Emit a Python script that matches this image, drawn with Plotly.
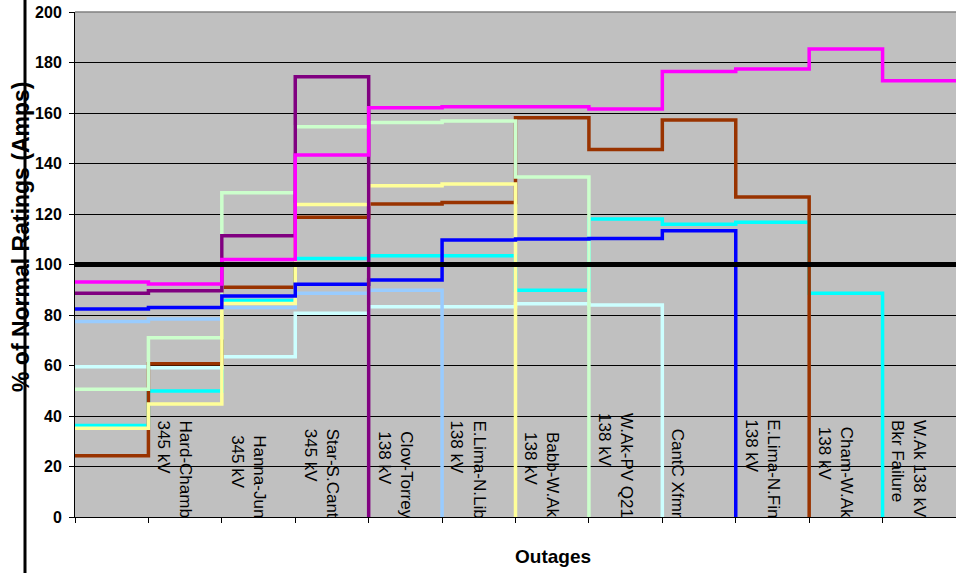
import plotly.graph_objects as go

# Outage cases, one per step boundary 1..11 along the x axis
outage_labels = [
    "Hard-Chamb<br>345 kV",
    "Hanna-Jun<br>345 kV",
    "Star-S.Cant<br>345 kV",
    "Clov-Torrey<br>138 kV",
    "E.Lima-N.Lib<br>138 kV",
    "Babb-W.Ak<br>138 kV",
    "W.Ak-PV Q21<br>138 kV",
    "CantC Xfmr",
    "E.Lima-N.Fin<br>138 kV",
    "Cham-W.Ak<br>138 kV",
    "W.Ak 138 kV<br>Bkr Failure",
]

# % of normal rating for each monitored line, one value per step.
# A trailing 0 marks the step where that line itself is taken out.
magenta = [93.1, 92.3, 102.0, 143.4, 162.1, 162.5, 162.5, 161.6, 176.4, 177.4, 185.3, 172.8]
purple = [88.6, 89.6, 111.4, 174.4, 0]
brown = [24.3, 60.7, 91.0, 118.7, 124.0, 124.6, 158.1, 145.5, 157.2, 126.7, 0]
blue = [82.4, 83.0, 87.5, 92.2, 93.9, 109.7, 110.1, 110.3, 113.4, 0]
light_blue = [77.4, 78.4, 83.0, 88.6, 89.8, 0]
cyan = [36.2, 49.9, 85.7, 102.4, 103.5, 103.5, 89.8, 118.0, 115.9, 116.7, 88.6, 0]
light_yellow = [35.1, 44.8, 84.6, 123.8, 131.2, 131.9, 0]
light_green = [50.6, 71.0, 128.4, 154.6, 156.2, 156.8, 134.7, 0]
light_cyan = [59.5, 59.1, 63.5, 80.7, 83.3, 83.3, 84.5, 84.0, 0]

rating_limit = 100
n_steps = 12

series = [
    (cyan, "#00FFFF"),
    (light_cyan, "#CCFFFF"),
    (light_blue, "#99CCFF"),
    (brown, "#993300"),
    (light_green, "#CCFFCC"),
    (light_yellow, "#FFFF99"),
    (blue, "#0000FF"),
    (purple, "#800080"),
    (magenta, "#FF00FF"),
]

FONT = "Liberation Sans, Arial, sans-serif"

fig = go.Figure()
for values, color in series:
    ys = list(values)
    if ys[-1] != 0:  # line stays in service to the last step
        ys = ys + [ys[-1]]
    xs = list(range(len(ys)))
    fig.add_trace(go.Scatter(
        x=xs, y=ys, mode="lines",
        line=dict(color=color, width=3.5, shape="hv"),
        showlegend=False, hoverinfo="skip",
    ))

# 100 % rating limit
fig.add_trace(go.Scatter(
    x=[0, n_steps], y=[rating_limit, rating_limit], mode="lines",
    line=dict(color="black", width=5), showlegend=False, hoverinfo="skip",
))

W, H = 956, 573
ML, MR, MT, MB = 75, 0, 12, 56
pw, ph = W - ML - MR, H - MT - MB

annotations = []
for i, label in enumerate(outage_labels, start=1):
    annotations.append(dict(
        x=i, y=0, xref="x", yref="y", text=label, showarrow=False,
        textangle=90, xanchor="left", yanchor="bottom", align="left",
        xshift=4, yshift=-3,
        font=dict(family=FONT, size=17, color="black"),
    ))

annotations.append(dict(
    x=(21 - ML) / pw, y=(H - MB - 237) / ph, xref="paper", yref="paper",
    xanchor="center", yanchor="middle",
    text="<b>% of Normal Ratings (Amps)</b>", showarrow=False, textangle=-90,
    font=dict(family=FONT, size=23, color="black"),
))
annotations.append(dict(
    x=(553 - ML) / pw, y=(H - MB - 556) / ph, xref="paper", yref="paper",
    xanchor="center", yanchor="middle",
    text="<b>Outages</b>", showarrow=False,
    font=dict(family=FONT, size=19, color="black"),
))

shapes = [
    # top frame edge of the plot area
    dict(type="line", xref="paper", yref="paper", x0=0, x1=1, y0=1, y1=1,
         line=dict(color="#808080", width=1.5), layer="above"),
    # vertical rule at the far left
    dict(type="line", xref="paper", yref="paper",
         x0=(25 - ML) / pw, x1=(25 - ML) / pw,
         y0=(H - MB - H) / ph, y1=(H - MB) / ph,
         line=dict(color="black", width=3)),
]

fig.update_layout(
    width=W, height=H,
    margin=dict(l=ML, r=MR, t=MT, b=MB, pad=0),
    paper_bgcolor="white",
    plot_bgcolor="#C0C0C0",
    annotations=annotations,
    shapes=shapes,
    font=dict(family=FONT, color="black"),
)
fig.update_xaxes(
    range=[0, n_steps], tickvals=list(range(n_steps + 1)), showticklabels=False,
    ticks="outside", ticklen=5, tickcolor="black", tickwidth=1,
    showline=True, linecolor="black", linewidth=1,
    showgrid=False, zeroline=False,
)
fig.update_yaxes(
    range=[0, 200], tickvals=list(range(0, 201, 20)),
    ticks="outside", ticklen=5, tickcolor="black", tickwidth=1,
    tickfont=dict(family=FONT, size=16, color="black", weight=700),
    ticklabelstandoff=4,
    showline=True, linecolor="black", linewidth=1,
    showgrid=True, gridcolor="black", gridwidth=1,
    zeroline=False,
)

fig.write_html("out.html")
